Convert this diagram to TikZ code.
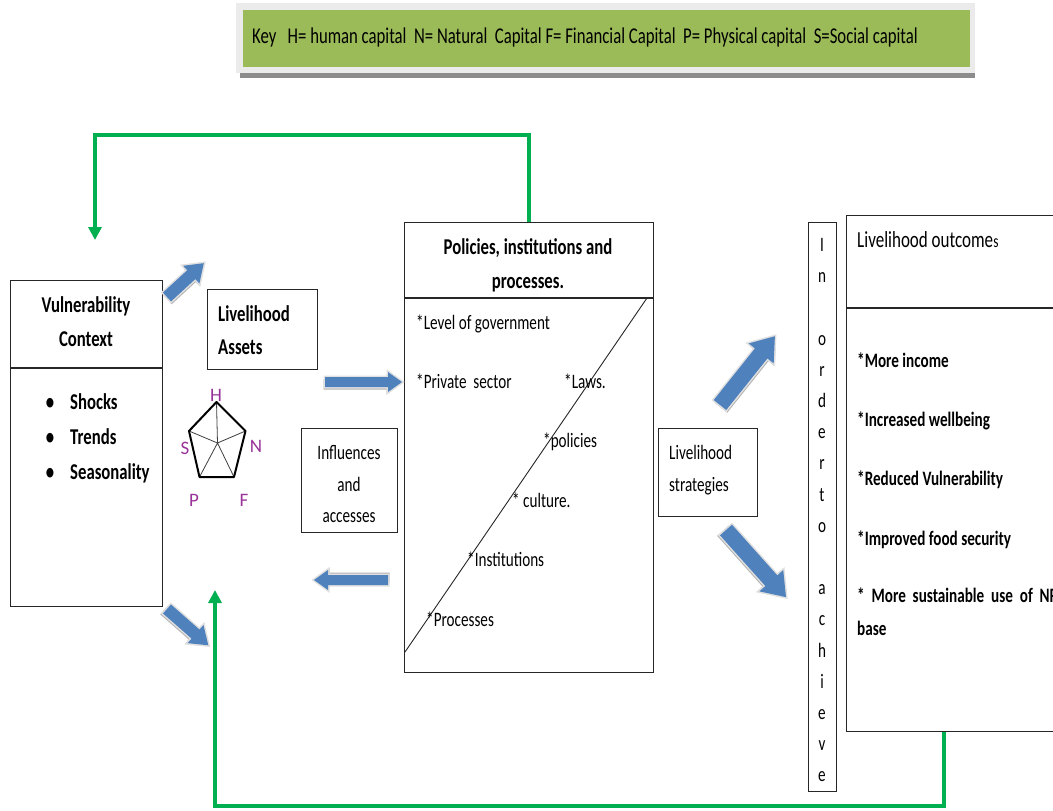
\documentclass[tikz,border=0pt]{standalone}
\usepackage{fontspec}
\setmainfont[FakeStretch=0.74]{Carlito}
\newfontfamily\capfont{Carlito}
\usetikzlibrary{arrows.meta}
\definecolor{keygreen}{HTML}{9BBB59}
\definecolor{loopgreen}{HTML}{00B050}
\definecolor{arrowblue}{HTML}{4F81BD}
\definecolor{capviolet}{HTML}{993399}

\tikzset{
  panel/.style={draw=black!85, line width=1.1pt, rectangle, anchor=north west, inner sep=0pt},
  divider/.style={draw=black!85, line width=1.1pt},
  txt/.style={anchor=base west, inner sep=0pt, font=\fontsize{20.5}{24}\selectfont},
  ctxt/.style={txt, anchor=base},
  btxt/.style={txt, font=\fontsize{20.5}{24}\selectfont\bfseries},
  cbtxt/.style={btxt, anchor=base},
  bigbtxt/.style={txt, font=\fontsize{22.6}{26}\selectfont\bfseries},
  cbigbtxt/.style={bigbtxt, anchor=base},
  feedback/.style={draw=loopgreen, line width=3.8pt, -{Triangle[width=13pt,length=13pt]}},
  caplabel/.style={text=capviolet, inner sep=0pt, font=\capfont\fontsize{19}{22}\selectfont},
  pics/blockarrow/.style args={#1/#2/#3/#4}{code={
    \path[fill=black!30, shift={(-1.5,2.5)}]
      (0,-#2) -- (#1-#4,-#2) -- (#1-#4,-#3) -- (#1,0) -- (#1-#4,#3) -- (#1-#4,#2) -- (0,#2) -- cycle;
    \path[draw=black!12, line width=3pt, fill=white]
      (0,-#2) -- (#1-#4,-#2) -- (#1-#4,-#3) -- (#1,0) -- (#1-#4,#3) -- (#1-#4,#2) -- (0,#2) -- cycle;
    \path[fill=arrowblue]
      (0,-#2) -- (#1-#4,-#2) -- (#1-#4,-#3) -- (#1,0) -- (#1-#4,#3) -- (#1-#4,#2) -- (0,#2) -- cycle;
  }}
}

\begin{document}
\begin{tikzpicture}[x=1pt,y=-1pt]
\useasboundingbox (0,0) rectangle (1053,811);
\clip (0,0) rectangle (1053,811);
\fill[white] (0,0) rectangle (1053,811);

% key banner
\fill[black!45] (240,70) rectangle (975,78);
\fill[black!8] (236,3) rectangle (975,73);
\node[fill=keygreen, minimum width=727pt, minimum height=57pt, anchor=north west, inner sep=0pt] (keybox) at (243,10) {};
\node[txt, font=\fontsize{22.6}{26}\selectfont] (keytext) at (252,43) {Key\ \ \ H= human capital\ \ N= Natural\ \ Capital F= Financial Capital\ \ P= Physical capital\ \ S=Social capital};

% vulnerability context
\node[panel, minimum width=152pt, minimum height=326pt] (vuln) at (10,280) {};
\draw[divider] ([yshift=-88pt]vuln.north west) -- ([yshift=-88pt]vuln.north east);
\node[cbigbtxt] (vt1) at (86,312) {Vulnerability};
\node[cbigbtxt] (vt2) at (86,346) {Context};
\node[bigbtxt, anchor=base] (vb1) at (50,409) {\textbullet};
\node[bigbtxt, anchor=base] (vb2) at (50,444) {\textbullet};
\node[bigbtxt, anchor=base] (vb3) at (50,479) {\textbullet};
\node[bigbtxt] (vi1) at (70,409) {Shocks};
\node[bigbtxt] (vi2) at (70,444) {Trends};
\node[bigbtxt] (vi3) at (70,479) {Seasonality};

% livelihood assets
\node[panel, minimum width=110pt, minimum height=80pt] (assets) at (207,289) {};
\node[bigbtxt] (at1) at (218,321) {Livelihood};
\node[bigbtxt] (at2) at (218,354) {Assets};

% asset pentagon
\coordinate (pH) at (216.5,402);
\coordinate (pN) at (245.5,431);
\coordinate (pF) at (234,477);
\coordinate (pP) at (199.5,477);
\coordinate (pS) at (189,431);
\coordinate (pC) at (217.5,443);
\draw[line width=0.8pt, black!75] (pC) -- (pH) (pC) -- (pN) (pC) -- (pF) (pC) -- (pP) (pC) -- (pS);
\draw[line width=2pt, line join=round] (pH) -- (pN) -- (pF) -- (pP) -- (pS) -- cycle;
\node[caplabel] (capH) at (216,395) {H};
\node[caplabel] (capN) at (256,446) {N};
\node[caplabel] (capS) at (185,448) {S};
\node[caplabel] (capP) at (194,500) {P};
\node[caplabel] (capF) at (244,500) {F};

% influences and accesses
\node[panel, minimum width=96pt, minimum height=104pt] (influ) at (301,428) {};
\node[ctxt] (in1) at (349,459) {Influences};
\node[ctxt] (in2) at (349,491) {and};
\node[ctxt] (in3) at (349,522) {accesses};

% policies, institutions and processes
\node[panel, minimum width=249pt, minimum height=450pt] (policies) at (404,222) {};
\draw[divider] ([yshift=-76pt]policies.north west) -- ([yshift=-76pt]policies.north east);
\node[cbigbtxt] (pt1) at (528,254) {Policies, institutions and};
\node[cbigbtxt] (pt2) at (528,288) {processes.};
\draw[line width=0.9pt, black!85] (405,652) -- (647,298);
\node[txt] (pi1) at (416,329) {*Level of government};
\node[txt] (pi2) at (416,388) {*Private\ \ sector};
\node[txt] (pi3) at (564,388) {*Laws.};
\node[txt] (pi4) at (543,447) {*policies};
\node[txt] (pi5) at (512,507) {*\ culture.};
\node[txt] (pi6) at (467,566) {*Institutions};
\node[txt] (pi7) at (426,626) {*Processes};

% livelihood strategies
\node[panel, minimum width=99pt, minimum height=88pt] (strat) at (658,428) {};
\node[txt] (st1) at (669,459) {Livelihood};
\node[txt] (st2) at (669,491) {strategies};

% vertical caption
\node[panel, minimum width=28pt, minimum height=569pt] (inorder) at (808,222) {};
\foreach \ch [count=\i] in {I,n,{},o,r,d,e,r,t,o,{},a,c,h,i,e,v,e}
  \node[ctxt] (io\i) at (822,{251.5+(\i-1)*31.2}) {\ch};

% livelihood outcomes
\node[panel, minimum width=230pt, minimum height=516pt] (outcomes) at (846,215) {};
\draw[divider] ([yshift=-93pt]outcomes.north west) -- ([yshift=-93pt]outcomes.north east);
\node[txt, font=\fontsize{23}{26}\selectfont] (ot) at (857,247) {Livelihood outcome{\fontsize{18}{20}\selectfont s}};
\node[btxt] (oi1) at (857,367) {*More income};
\node[btxt] (oi2) at (857,426) {*Increased wellbeing};
\node[btxt] (oi3) at (857,485) {*Reduced Vulnerability};
\node[btxt] (oi4) at (857,545) {*Improved food security};
\node[btxt] (oi5) at (857,602) {*\ \ More\ \ sustainable\ \ use\ \ of\ \ NR};
\node[btxt] (oi6) at (857,635) {base};

% block arrows
\pic[rotate=42.6] (a1) at (167,297) {blockarrow=50/6/12/17};
\pic (a2) at (325,382) {blockarrow=77/5/10/14};
\pic[rotate=180] (a3) at (388,580) {blockarrow=74/5/10/14};
\pic[rotate=51.4] (a4) at (720,405) {blockarrow=88/8/16/22};
\pic[rotate=-48.2] (a5) at (726,530) {blockarrow=90/8/16/22};
\pic[rotate=-41.3] (a6) at (167,609) {blockarrow=55/6/12/17};

% feedback loops
\coordinate (topcorner) at (95,135);
\coordinate (vulntip) at (95,240);
\coordinate (botcorner) at (215,806);
\coordinate (assetstip) at (215,590);
\draw[feedback] (policies.north) |- (topcorner) -- (vulntip);
\draw[feedback] ([xshift=98pt]outcomes.south west) |- (botcorner) -- (assetstip);
\end{tikzpicture}
\end{document}
